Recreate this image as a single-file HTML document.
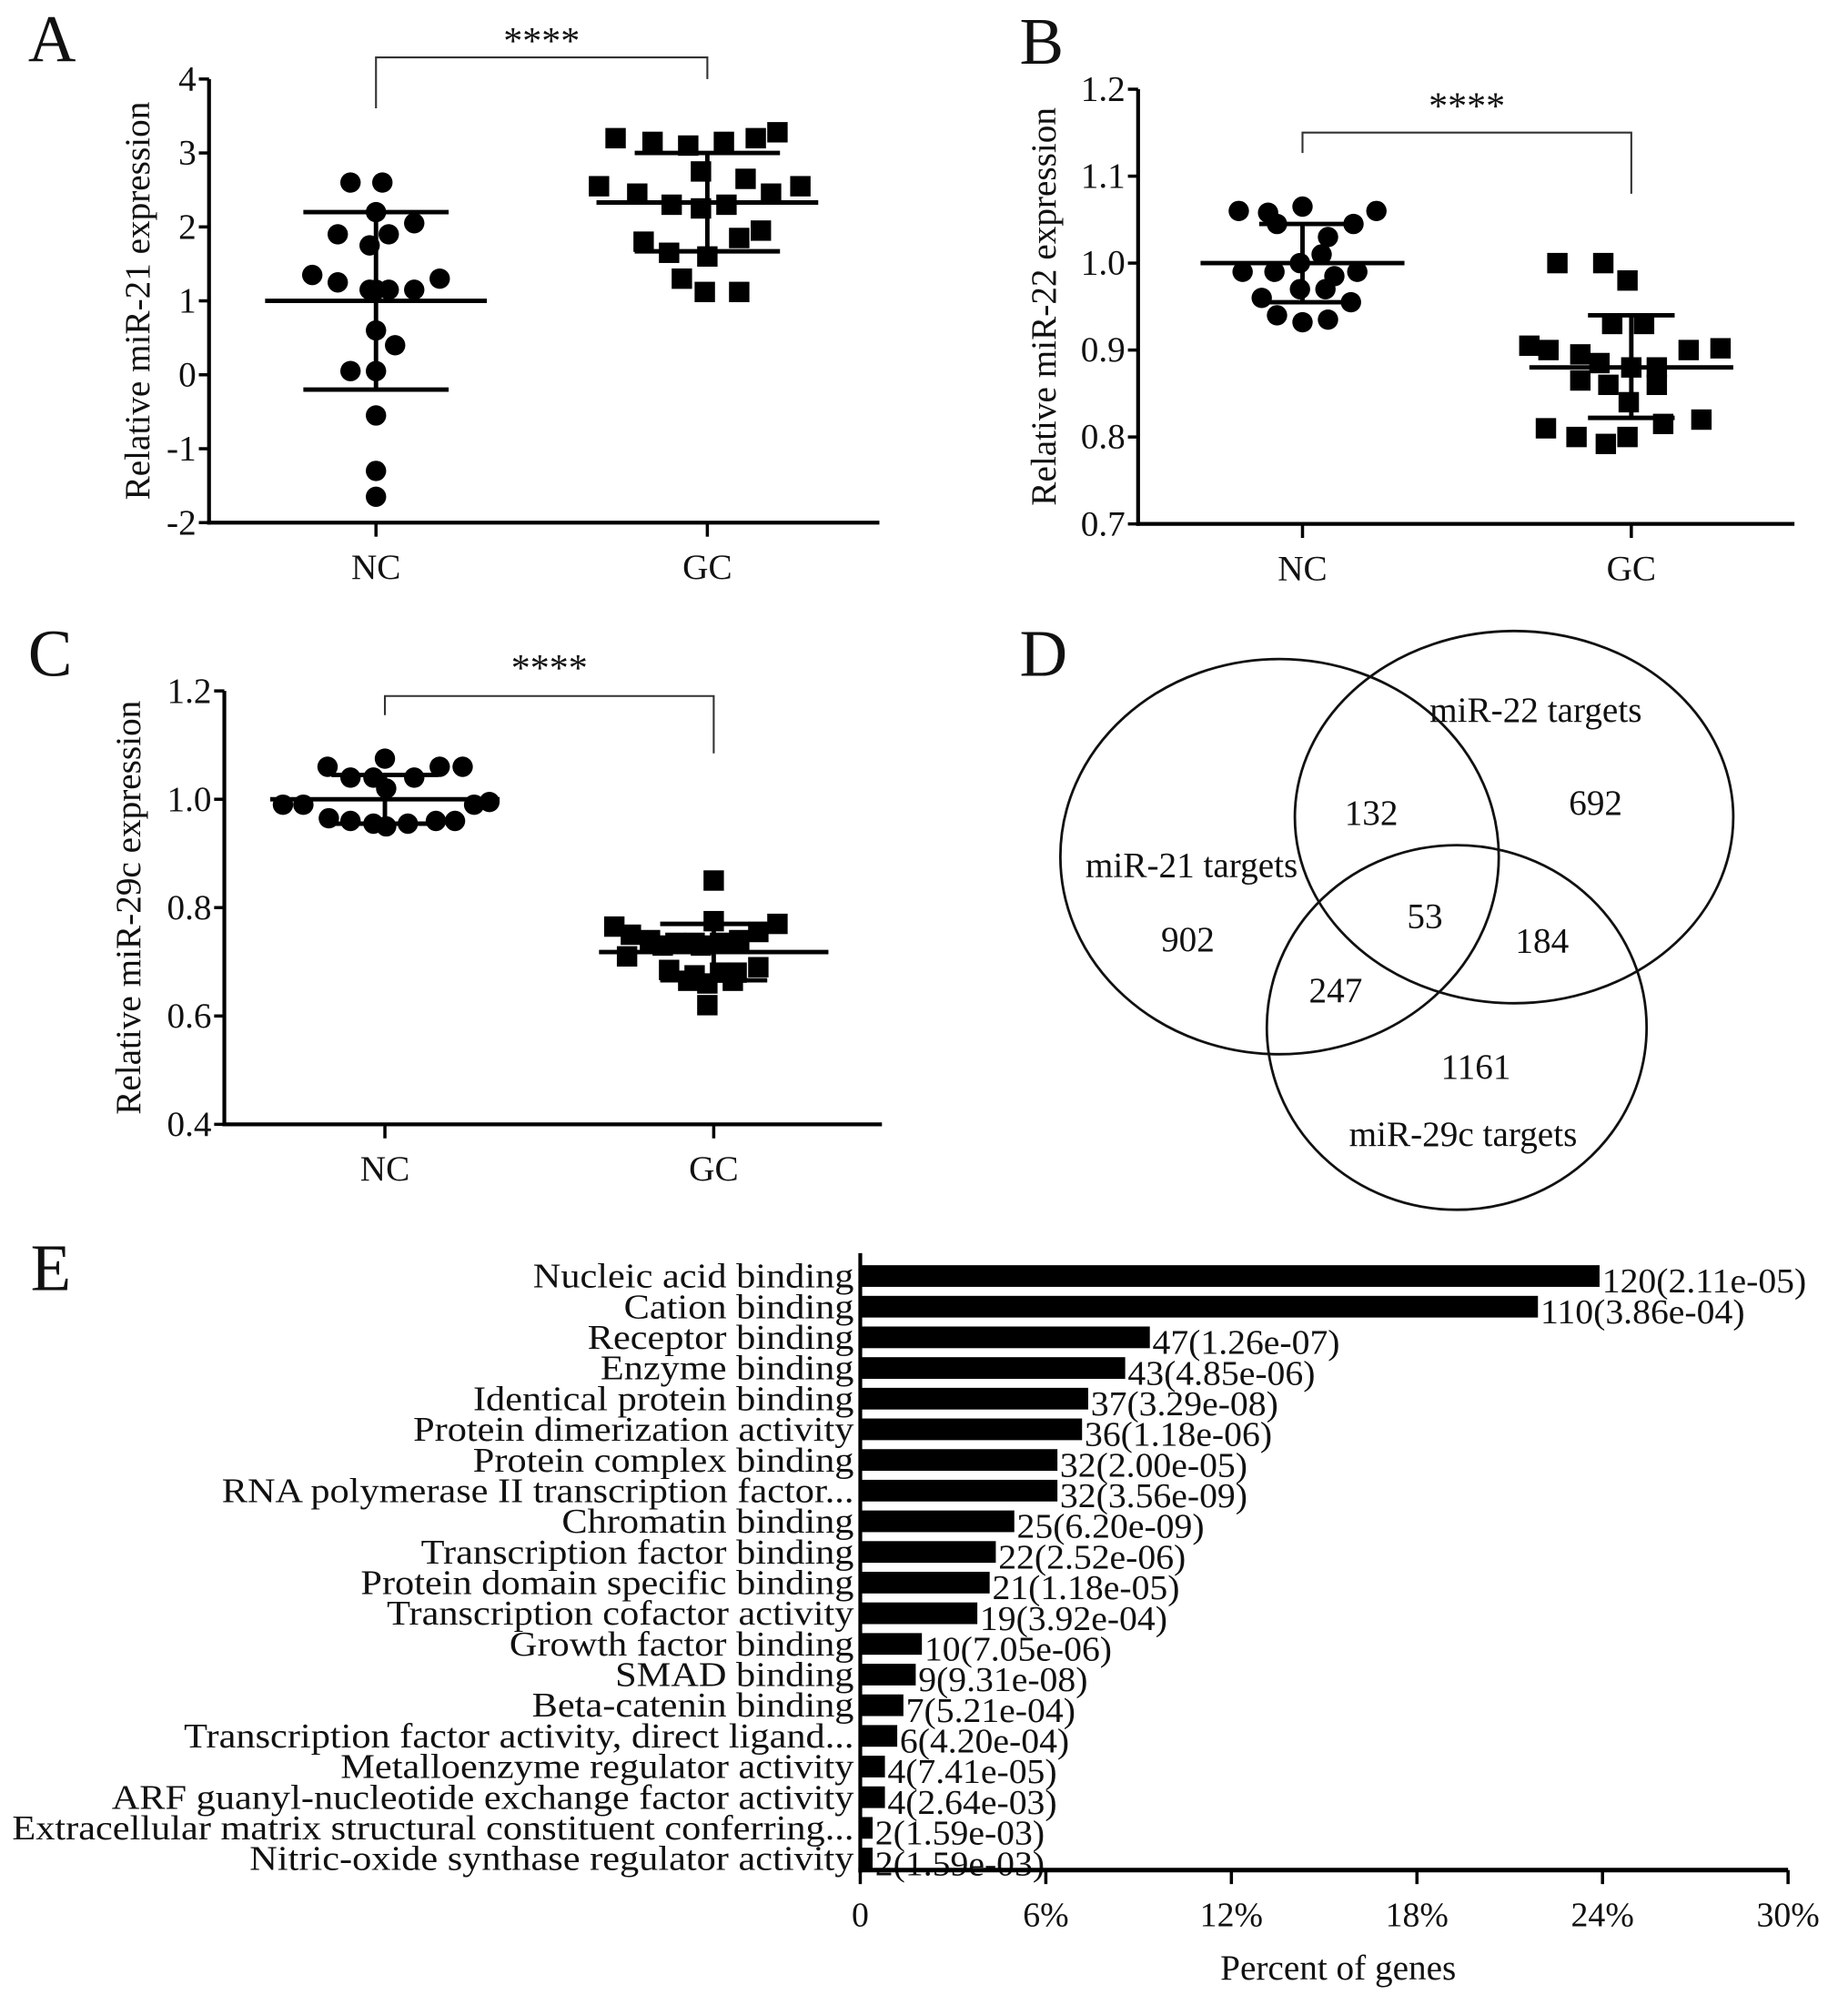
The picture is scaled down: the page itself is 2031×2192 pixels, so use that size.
<!DOCTYPE html>
<html><head><meta charset="utf-8"><style>
html,body{margin:0;padding:0;background:#fff}
svg{display:block}
text{font-family:"Liberation Serif",serif;fill:#111}
</style></head><body>
<svg id="fig" xmlns="http://www.w3.org/2000/svg" width="2031" height="2192" viewBox="0 0 1450 1565">
<g id="panels"></g>
</svg>
<script>
// ---------- Panel A data (miR-21) ----------
const groupsA = ["NC","GC"];
const ncA = [2.6,2.6,2.2,2.05,1.9,1.9,1.75,1.35,1.3,1.25,1.15,1.15,1.15,1.15,0.6,0.4,0.05,0.05,-0.55,-1.3,-1.65];
const ncAoff = [-20,5,0,30,-30,10,-5,-50,50,-30,-5,10,30,0,0,15,-20,0,0,0,0];
const gcA = [3.2,3.15,3.1,3.15,3.2,3.28,2.75,2.65,2.55,2.45,2.55,2.45,2.3,2.25,2.3,1.95,1.8,1.85,1.65,1.6,1.3,1.12,1.12];
const gcAoff = [-72,-43,-15,13,38,55,-5,30,-85,-55,73,50,-28,-5,15,42,-50,25,-30,0,-20,-2,25];
const statsA = {ncMean:1.0, ncLo:-0.2, ncHi:2.2, gcMean:2.33, gcLo:1.67, gcHi:3.0};
const ticksA = ["-2","-1","0","1","2","3","4"];
const tickValsA = [-2,-1,0,1,2,3,4];

// ---------- Panel B data (miR-22) ----------
const ncB = [1.06,1.058,1.065,1.06,1.045,1.045,1.03,1.01,1.0,0.99,0.99,0.99,0.985,0.97,0.97,0.96,0.955,0.94,0.935,0.932];
const ncBoff = [-50,-27,0,58,-20,40,20,15,-2,-47,-22,43,25,-2,18,-32,38,-20,20,0];
const gcB = [1.0,1.0,0.98,0.93,0.93,0.905,0.9,0.9,0.902,0.895,0.885,0.88,0.88,0.865,0.86,0.86,0.84,0.82,0.81,0.815,0.8,0.8,0.792];
const gcBoff = [-22,-58,-3,-15,10,-80,-65,45,70,-40,-25,0,20,-40,-18,20,-2,55,-67,25,-43,-3,-20];
const statsB = {ncMean:1.0, ncLo:0.955, ncHi:1.045, gcMean:0.88, gcLo:0.822, gcHi:0.94};
const ticksB = ["0.7","0.8","0.9","1.0","1.1","1.2"];
const tickValsB = [0.7,0.8,0.9,1.0,1.1,1.2];

// ---------- Panel C data (miR-29c) ----------
const ncC = [1.06,1.075,1.06,1.06,1.04,1.04,1.04,1.02,0.99,0.99,0.995,0.99,0.965,0.96,0.96,0.96,0.955,0.955,0.95];
const ncCoff = [-45,0,43,61,-27,-9,23,1,-80,-64,82,70,-44,-27,40,55,-9,18,1];
const gcC = [0.85,0.775,0.765,0.77,0.755,0.75,0.74,0.74,0.735,0.735,0.735,0.73,0.73,0.71,0.69,0.685,0.675,0.68,0.68,0.665,0.665,0.66,0.62];
const gcCoff = [0,0,-78,50,35,-65,-50,20,-30,-15,5,-40,-10,-68,35,-35,-15,18,5,-20,15,-5,-5];
const statsC = {ncMean:1.0, ncLo:0.955, ncHi:1.045, gcMean:0.718, gcLo:0.666, gcHi:0.77};
const ticksC = ["0.4","0.6","0.8","1.0","1.2"];
const tickValsC = [0.4,0.6,0.8,1.0,1.2];

// ---------- Panel E data (GO terms) ----------
const goTerms = ["Nucleic acid binding","Cation binding","Receptor binding","Enzyme binding","Identical protein binding ","Protein dimerization activity","Protein complex binding","RNA polymerase II transcription factor...","Chromatin binding","Transcription factor binding","Protein domain specific binding","Transcription cofactor activity","Growth factor binding","SMAD binding","Beta-catenin binding","Transcription factor activity, direct ligand...","Metalloenzyme regulator activity","ARF guanyl-nucleotide exchange factor activity","Extracellular matrix structural constituent conferring...","Nitric-oxide synthase regulator activity"];
const goCounts = [120,110,47,43,37,36,32,32,25,22,21,19,10,9,7,6,4,4,2,2];
const goPvals = ["2.11e-05","3.86e-04","1.26e-07","4.85e-06","3.29e-08","1.18e-06","2.00e-05","3.56e-09","6.20e-09","2.52e-06","1.18e-05","3.92e-04","7.05e-06","9.31e-08","5.21e-04","4.20e-04","7.41e-05","2.64e-03","1.59e-03","1.59e-03"];
const goTotal = 502;
const pctTicks = ["0","6%","12%","18%","24%","30%"];
const pctTickVals = [0,6,12,18,24,30];

const NS = "http://www.w3.org/2000/svg";
const root = document.getElementById("panels");
function mk(tag, attrs, parent){
  const e = document.createElementNS(NS, tag);
  for (const k in attrs) e.setAttribute(k, attrs[k]);
  (parent||root).appendChild(e);
  return e;
}
function txt(str, attrs, parent){ const t = mk("text", attrs, parent); t.textContent = str; return t; }
function stretch(t, f){
  const L = t.getComputedTextLength();
  if (L > 0){ t.setAttribute("textLength", (L*f).toFixed(1)); t.setAttribute("lengthAdjust","spacingAndGlyphs"); }
}

function scatterPanel(cfg){
  const g = mk("g", {});
  
  
  const y = v => cfg.y0 - (v - cfg.vmin) / (cfg.vmax - cfg.vmin) * (cfg.y0 - cfg.y1);
  const ybot = y(cfg.vmin), ytop = y(cfg.vmax);
  const ax = mk("line", {x1:cfg.ax, y1:ytop, x2:cfg.ax, y2:ybot+1.5, stroke:"#000","stroke-width":3}, g);
  
  
  const xa = mk("line", {x1:cfg.ax-1.5, y1:ybot, x2:cfg.axEnd, y2:ybot, stroke:"#000","stroke-width":3}, g);
  
  
  cfg.tickVals.forEach((v,i)=>{
    mk("line",{x1:cfg.ax-8,y1:y(v),x2:cfg.ax,y2:y(v),stroke:"#000","stroke-width":2.5},g);
    const t = txt(cfg.ticks[i],{x:cfg.ax-10,y:y(v)+9,"text-anchor":"end","font-size":28},g);
    
    
  });
  [cfg.ncX, cfg.gcX].forEach((gx,i)=>{
    mk("line",{x1:gx,y1:ybot,x2:gx,y2:ybot+11,stroke:"#000","stroke-width":2.5},g);
    const t = txt(groupsA[i],{x:gx,y:ybot+44,"text-anchor":"middle","font-size":28},g);
    
    
  });
  const yl = txt(cfg.ylabel,{x:0,y:0,"text-anchor":"middle","font-size":28,transform:`translate(${cfg.ylx},${(ytop+ybot)/2}) rotate(-90)`},g);
  
  
  const lt = txt(cfg.letter,{x:cfg.lx,y:cfg.ly,"font-size":52},g);
  
  
  const br = mk("polyline",{points:`${cfg.ncX},${cfg.bl} ${cfg.ncX},${cfg.by} ${cfg.gcX},${cfg.by} ${cfg.gcX},${cfg.br}`,fill:"none",stroke:"#333","stroke-width":1.5},g);
  
  
  const st = txt("****",{x:(cfg.ncX+cfg.gcX)/2,y:cfg.sy,"text-anchor":"middle","font-size":30},g);
  
  
  cfg.nc.forEach((v,i)=>{
    const c = mk("circle",{cx:cfg.ncX+cfg.ncOff[i],cy:y(v),r:8,fill:"#000"},g);
    
    
  });
  cfg.gc.forEach((v,i)=>{
    const r = mk("rect",{x:cfg.gcX+cfg.gcOff[i]-8,y:y(v)-8,width:16,height:16,fill:"#000"},g);
    
    
  });
  const s = cfg.stats;
  [[cfg.ncX,s.ncMean,s.ncLo,s.ncHi],[cfg.gcX,s.gcMean,s.gcLo,s.gcHi]].forEach(([gx,m,lo,hi],i)=>{
    const eg = mk("g",{},g);
    
    
    mk("line",{x1:gx-cfg.mw,y1:y(m),x2:gx+cfg.mw,y2:y(m),stroke:"#000","stroke-width":3.5},eg);
    mk("line",{x1:gx,y1:y(lo),x2:gx,y2:y(hi),stroke:"#000","stroke-width":3.5},eg);
    mk("line",{x1:gx-cfg.sw,y1:y(lo),x2:gx+cfg.sw,y2:y(lo),stroke:"#000","stroke-width":3.5},eg);
    mk("line",{x1:gx-cfg.sw,y1:y(hi),x2:gx+cfg.sw,y2:y(hi),stroke:"#000","stroke-width":3.5},eg);
  });
}

scatterPanel({name:"panel-a-mir21",letter:"A",lx:22,ly:48,ax:164,axEnd:690,y0:410,y1:62,vmin:-2,vmax:4,
  ticks:ticksA,tickVals:tickValsA,ncX:295,gcX:555,nc:ncA,ncOff:ncAoff,gc:gcA,gcOff:gcAoff,stats:statsA,
  ylabel:"Relative miR-21 expression",ylx:117,bl:85,br:62,by:45,sy:42,mw:87,sw:57});
scatterPanel({name:"panel-b-mir22",letter:"B",lx:800,ly:50,ax:893,axEnd:1408,y0:411,y1:70,vmin:0.7,vmax:1.2,
  ticks:ticksB,tickVals:tickValsB,ncX:1022,gcX:1280,nc:ncB,ncOff:ncBoff,gc:gcB,gcOff:gcBoff,stats:statsB,
  ylabel:"Relative miR-22 expression",ylx:828,bl:120,br:152,by:104,sy:93,mw:80,sw:34});
scatterPanel({name:"panel-c-mir29c",letter:"C",lx:22,ly:530,ax:176,axEnd:692,y0:882,y1:542,vmin:0.4,vmax:1.2,
  ticks:ticksC,tickVals:tickValsC,ncX:302,gcX:560,nc:ncC,ncOff:ncCoff,gc:gcC,gcOff:gcCoff,stats:statsC,
  ylabel:"Relative miR-29c expression",ylx:110,bl:561,br:591,by:546,sy:534,mw:90,sw:42});

// ---------- Panel D Venn ----------
const vennSets = ["miR-21 targets","miR-22 targets","miR-29c targets"];
const vennCounts = ["902","692","1161","132","247","184","53"];
(function(){
  const g = mk("g",{});
  
  
  const lt = txt("D",{x:800,y:530,"font-size":52},g);
  
  
  const ell = [[1004,672,172,155],[1188,641,172,146],[1143,806,149,143]];
  ell.forEach((e,i)=>{
    const el = mk("ellipse",{cx:e[0],cy:e[1],rx:e[2],ry:e[3],fill:"none",stroke:"#111","stroke-width":2},g);
    
    
  });
  const setPos = [[935,688],[1205,566],[1148,899]];
  vennSets.forEach((s,i)=>{
    const t = txt(s,{x:setPos[i][0],y:setPos[i][1],"text-anchor":"middle","font-size":28},g);
    
    
  });
  const cntPos = [[932,746],[1252,639],[1158,846],[1076,647],[1048,786],[1210,747],[1118,728]];
  vennCounts.forEach((s,i)=>{
    const t = txt(s,{x:cntPos[i][0],y:cntPos[i][1],"text-anchor":"middle","font-size":28},g);
    
    
  });
})();

// ---------- Panel E bar chart ----------
(function(){
  const g = mk("g",{});
  
  
  const x0 = 675, xw = 728, ymin = 1001, step = 24.05;
  const xs = p => x0 + p/30*xw;
  const ys = i => ymin + i*step;
  const lt = txt("E",{x:24,y:1012,"font-size":52},g);
  
  
  goCounts.forEach((c,i)=>{
    const p = c/goTotal*100;
    const b = mk("rect",{x:x0,y:ys(i)-8.5,width:xs(p)-x0,height:17,fill:"#000"},g);
    
    
    const l = txt(goTerms[i],{x:670,y:ys(i)+9,"text-anchor":"end","font-size":27},g);
    
    
    stretch(l, 1.12);
    const v = txt(c+"("+goPvals[i]+")",{x:xs(p)+2,y:ys(i)+13,"font-size":27},g);
    
    
    stretch(v, 1.05);
  });
  const ya = mk("line",{x1:x0,y1:983,x2:x0,y2:1469,stroke:"#000","stroke-width":3},g);
  
  
  const xa = mk("line",{x1:x0-1.5,y1:1467,x2:xs(30),y2:1467,stroke:"#000","stroke-width":3.5},g);
  
  
  pctTickVals.forEach((v,i)=>{
    mk("line",{x1:xs(v),y1:1467,x2:xs(v),y2:1478,stroke:"#000","stroke-width":2.5},g);
    const t = txt(pctTicks[i],{x:xs(v),y:1511,"text-anchor":"middle","font-size":27},g);
    
    
  });
  const xt = txt("Percent of genes",{x:1050,y:1553,"text-anchor":"middle","font-size":28},g);
  
  
})();
</script>
</body></html>
